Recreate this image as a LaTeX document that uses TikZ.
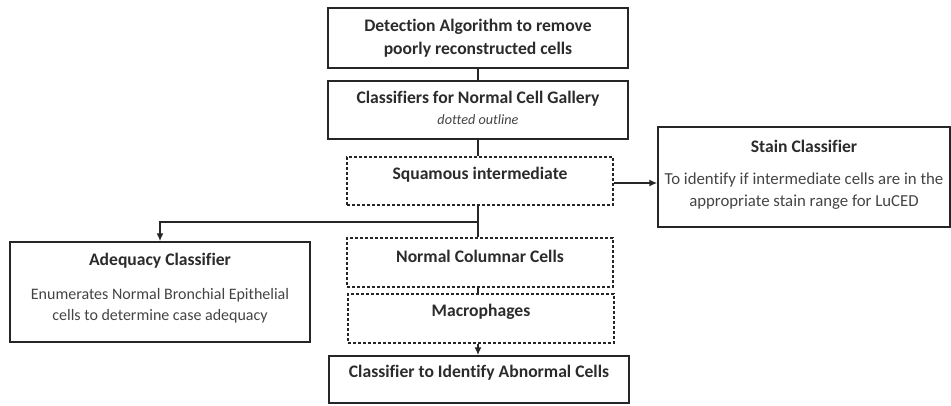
\documentclass[tikz,border=0pt]{standalone}
\usepackage{fontspec}
\setmainfont[Ligatures=NoCommon]{Carlito}
\usetikzlibrary{arrows.meta}
\definecolor{ink}{HTML}{262626}
\definecolor{txt}{HTML}{2b2b2b}
\definecolor{desc}{HTML}{444444}
\tikzset{
  sbox/.style={draw=ink, line width=1.5pt, rectangle, inner sep=0pt},
  dbox/.style={sbox, dash pattern=on 3pt off 2pt, line width=1.2pt},
  ttl/.style={font=\fontsize{17.6}{23}\selectfont\bfseries, text=txt, align=center, inner sep=0pt},
  dsc/.style={font=\fontsize{16}{21}\selectfont, text=desc, align=center, inner sep=0pt},
  conn/.style={draw=ink, line width=1.5pt},
  arr/.style={conn, -{Latex[length=8pt,width=7pt]}}
}
\begin{document}
\begin{tikzpicture}[x=1pt,y=-1pt]
\useasboundingbox (0,0) rectangle (951,405);
% boxes
\node[sbox, minimum width=300pt, minimum height=60pt] (top) at (478,38) {};
\node[ttl] (topt) at (478,38) {Detection Algorithm to remove\\poorly reconstructed cells};
\node[sbox, minimum width=300pt, minimum height=58pt] (gal) at (478,110) {};
\node[ttl] (galt) at (478,99) {Classifiers for Normal Cell Gallery};
\node[dsc, font=\fontsize{14.2}{16}\selectfont\itshape] (galn) at (478,119.5) {dotted outline};
\node[dbox, minimum width=266pt, minimum height=48pt] (sq) at (480,181) {};
\node[ttl] (sqt) at (480,175) {Squamous intermediate};
\node[dbox, minimum width=266pt, minimum height=49pt] (nc) at (480,262.5) {};
\node[ttl] (nct) at (480,256) {Normal Columnar Cells};
\node[dbox, minimum width=266pt, minimum height=49pt] (mac) at (481,318.5) {};
\node[ttl] (mact) at (481,312) {Macrophages};
\node[sbox, minimum width=300pt, minimum height=47pt] (abn) at (479,379.5) {};
\node[ttl] (abnt) at (479,373) {Classifier to Identify Abnormal Cells};
\node[sbox, minimum width=300pt, minimum height=100pt] (adq) at (160,292) {};
\node[ttl] (adqt) at (160,261) {Adequacy Classifier};
\node[dsc] (adqd) at (160,306) {Enumerates Normal Bronchial Epithelial\\cells to determine case adequacy};
\node[sbox, minimum width=292pt, minimum height=100pt] (stn) at (804,177) {};
\node[ttl] (stnt) at (804,146) {Stain Classifier};
\node[dsc, font=\fontsize{16.8}{22}\selectfont] (stnd) at (804,191) {To identify if intermediate cells are in the\\appropriate stain range for LuCED};
% connectors
\draw[conn] (top.south) -- (top.south |- gal.north);
\draw[conn] (gal.south) -- (gal.south |- sq.north);
\draw[arr] ([yshift=-2pt]sq.east) -- ([yshift=-2pt]sq.east -| stn.west);
\coordinate (j) at (478,222);
\draw[conn] (j |- sq.south) -- (j |- nc.north);
\draw[arr] (j) -| (adq.north);
\draw[conn] (j |- nc.south) -- (j |- mac.north);
\draw[arr] (j |- mac.south) -- (j |- abn.north);
\end{tikzpicture}
\end{document}
